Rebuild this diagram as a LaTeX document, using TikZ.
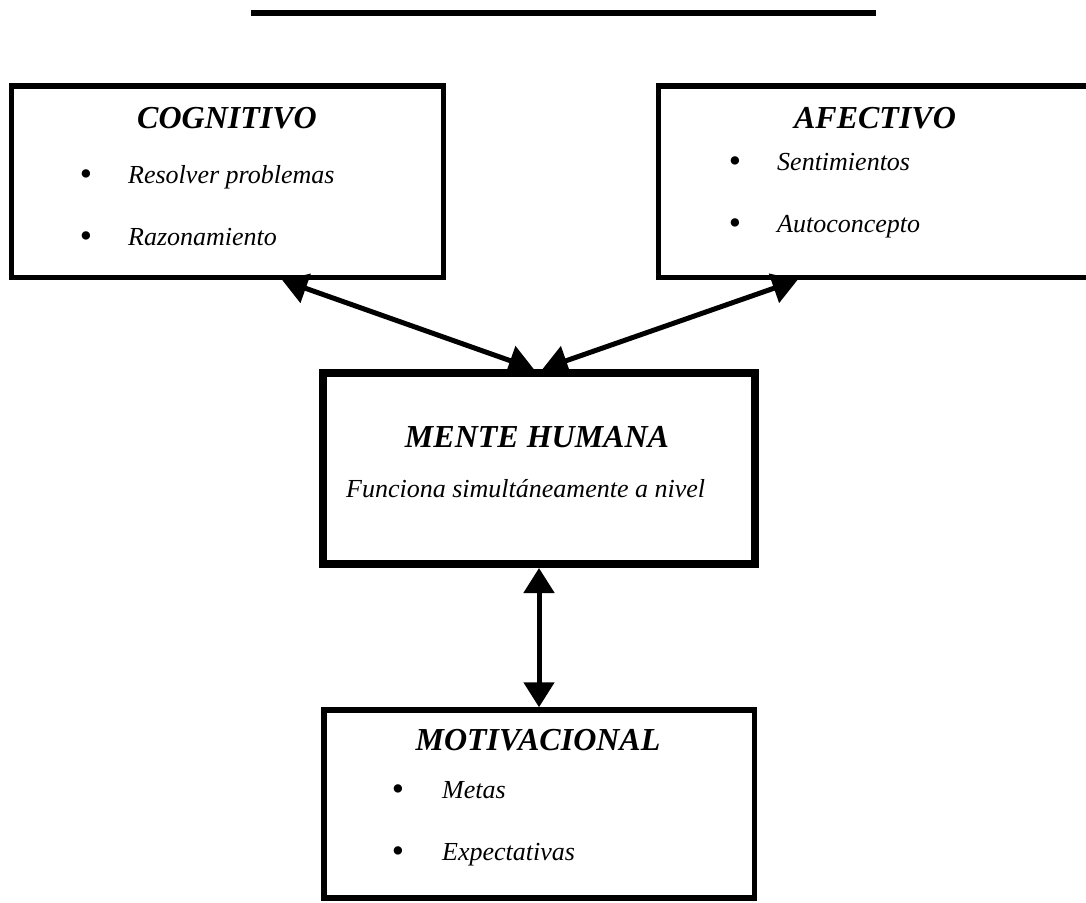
\documentclass[tikz,border=0pt]{standalone}
\usepackage{fontspec}
\setmainfont{Liberation Serif}
\usetikzlibrary{arrows.meta,positioning,calc}
\tikzset{
    every picture/.style={line join=miter},
    areabox/.style={draw=black,line width=5.5pt,minimum width=432pt,
      minimum height=191.5pt,inner sep=0pt},
    mainbox/.style={areabox,line width=8pt,minimum height=191pt},
    boxtitle/.style={font=\fontsize{32}{38}\selectfont\bfseries\itshape,
      anchor=base,inner sep=0pt},
    itemtext/.style={font=\fontsize{26}{31}\selectfont\itshape,
      anchor=base west,inner sep=0pt},
    itemdot/.style={font=\fontsize{35}{40}\selectfont,anchor=base,inner sep=0pt,
      yshift=-2pt},
    linkarrow/.style={<->,draw=black,line width=5pt},
    headrule/.style={draw=black,line width=6pt}
}
\begin{document}
\begin{tikzpicture}[x=1pt,y=-1pt,>={Triangle[length=25pt,width=30pt]}]
  \useasboundingbox (0,0) rectangle (1086,902);
  \coordinate (ruleL) at (251,13);
  \coordinate (ruleR) at (876,13);
  \draw[headrule] (ruleL) -- (ruleR);

  \node[areabox] (cog) at (227.5,181.5) {};
  \node[boxtitle] (cogtitle) at (227,128) {COGNITIVO};
  \node[itemdot] (cogdot1) at (86,183) {•};
  \node[itemtext] (cogitem1) at (128,183) {Resolver problemas};
  \node[itemdot] (cogdot2) at (86,245) {•};
  \node[itemtext] (cogitem2) at (128,245) {Razonamiento};

  \node[areabox] (afe) at (874.5,181.5) {};
  \node[boxtitle] (afetitle) at (875,128) {AFECTIVO};
  \node[itemdot] (afedot1) at (735,170) {•};
  \node[itemtext] (afeitem1) at (777,170) {Sentimientos};
  \node[itemdot] (afedot2) at (735,232) {•};
  \node[itemtext] (afeitem2) at (777,232) {Autoconcepto};

  \node[mainbox] (mente) at (539,468.5) {};
  \node[boxtitle] (mentetitle) at (537,447) {MENTE HUMANA};
  \node[itemtext] (mentetext) at (346,497) {Funciona simultáneamente a nivel};

  \node[areabox,minimum width=430.5pt,minimum height=188pt] (moti) at (539,804) {};
  \node[boxtitle] (motititle) at (538,750) {MOTIVACIONAL};
  \node[itemdot] (motidot1) at (398,798) {•};
  \node[itemtext] (motiitem1) at (442,798) {Metas};
  \node[itemdot] (motidot2) at (398,860) {•};
  \node[itemtext] (motiitem2) at (442,860) {Expectativas};

  \draw[linkarrow] (cog.-61) -- (mente.93);
  \draw[linkarrow] (afe.-128) -- (mente.88);
  \draw[linkarrow] (mente.south) -- (moti.north);
\end{tikzpicture}
\end{document}
